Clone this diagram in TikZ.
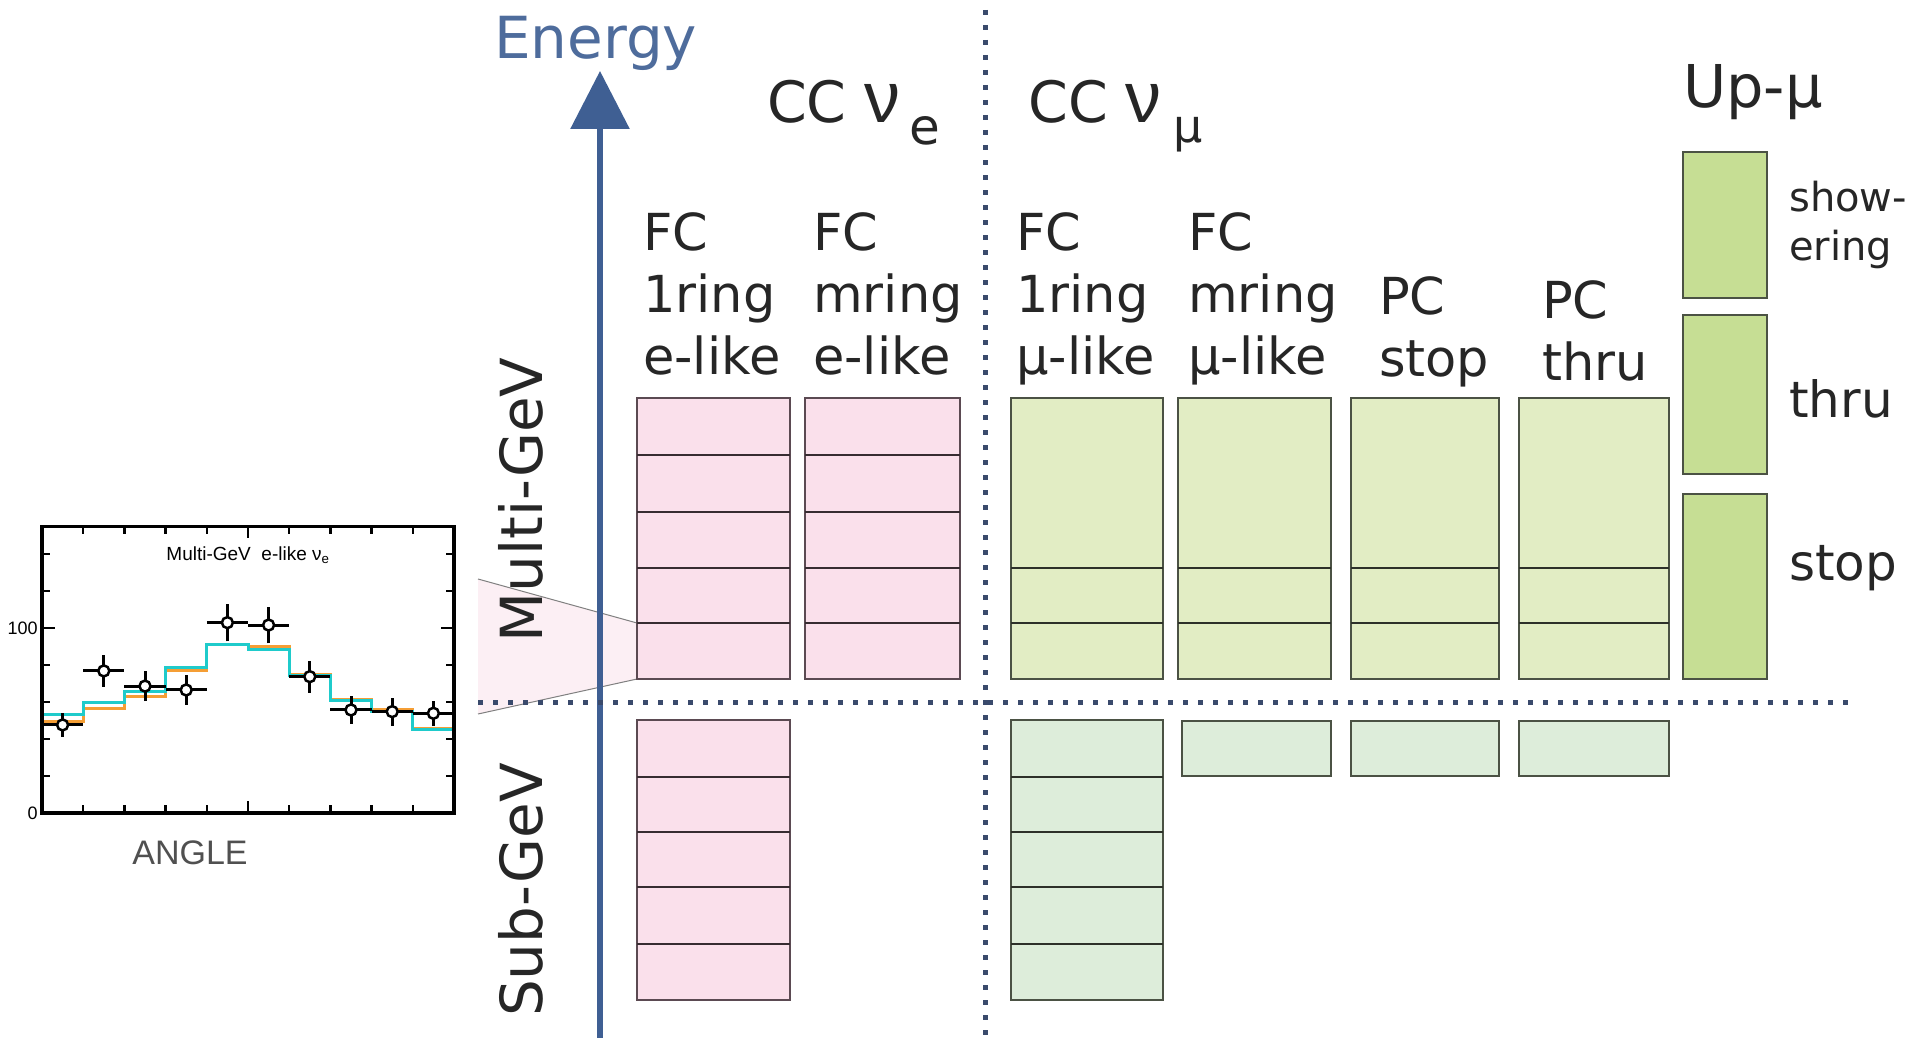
\documentclass[tikz,border=0pt]{standalone}
\usepackage{fontspec}
\setmainfont{DejaVu Sans}
\newfontfamily\plotfont{Liberation Sans}
\usetikzlibrary{arrows.meta}
\definecolor{axisblue}{HTML}{3F5F93}
\definecolor{energyblue}{HTML}{4E6C9C}
\definecolor{dotblue}{HTML}{3A4A6C}
\definecolor{pinkfill}{HTML}{FAE0EB}
\definecolor{pinkedge}{HTML}{5B4A52}
\definecolor{mgreen}{HTML}{E2EDC4}
\definecolor{sgreen}{HTML}{DDEDDA}
\definecolor{ugreen}{HTML}{C6DE94}
\definecolor{greenedge}{HTML}{4B5244}
\definecolor{zoomfill}{HTML}{FCEFF4}
\definecolor{histcyan}{HTML}{1FCBCB}
\definecolor{historange}{HTML}{F59E35}
\definecolor{anglegray}{HTML}{505050}
\definecolor{ink}{HTML}{262626}
% upright, straight-stroked nu for the channel headings
\newcommand{\bignu}{{\plotfont\fontsize{72}{72}\selectfont ν}}
\begin{document}
\begin{tikzpicture}[x=1pt,y=-1pt,
  cell/.style={line width=2.5pt},
  pinkcell/.style={cell, fill=pinkfill, draw=pinkedge},
  pinkrow/.style={line width=2.5pt, draw=pinkedge!60!black},
  mgcell/.style={cell, fill=mgreen, draw=greenedge},
  sgcell/.style={cell, fill=sgreen, draw=greenedge},
  upcell/.style={cell, fill=ugreen, draw=greenedge},
  greenrow/.style={line width=2.5pt, draw=greenedge!60!black},
  divider/.style={dotblue, line width=5pt, dash pattern=on 5pt off 10pt},
  collabel/.style={font=\fontsize{51}{62}\selectfont, align=left, anchor=north west, inner sep=0pt, text=ink},
  head/.style={font=\fontsize{57}{60}\selectfont, anchor=base west, inner sep=0pt, text=ink},
  sidelabel/.style={font=\fontsize{50}{50}\selectfont, anchor=base west, inner sep=0pt, text=ink},
  rangelabel/.style={font=\fontsize{58}{58}\selectfont, rotate=90, inner sep=0pt, text=ink},
  plotlabel/.style={font=\plotfont\fontsize{18}{18}\selectfont, inner sep=0pt},
  tick/.style={line width=2.5pt},
  errbar/.style={line width=3pt}
]
\useasboundingbox (0,0) rectangle (1924,1038);
\fill[white] (0,0) rectangle (1924,1038);

% zoom wedge from the histogram to the lowest multi-GeV e-like bin
\coordinate (zup) at (478,579);
\coordinate (zlo) at (478,714);
\coordinate (bup) at (637,623);
\coordinate (blo) at (637,679);
\fill[zoomfill] (zup) -- (bup) -- (blo) -- (zlo) -- cycle;
\draw[gray, line width=1pt] (zup) -- (bup);
\draw[gray, line width=1pt] (zlo) -- (blo);

% energy axis
\coordinate (axbot) at (600,1038);
\coordinate (axtop) at (600,71);
\draw[axisblue, line width=6pt, -{Triangle[length=58pt,width=58pt]}] (axbot) -- (axtop);
\node[font=\fontsize{58}{58}\selectfont, text=energyblue, anchor=base west, inner sep=0pt] (energy) at (494,59) {Energy};

% dotted dividers
\coordinate (vtop) at (985,10);
\coordinate (vbot) at (985,1038);
\coordinate (hleft) at (478,702);
\coordinate (hright) at (1853,702);
\draw[divider] (vtop) -- (vbot);
\draw[divider] (hleft) -- (hright);

% multi-GeV e-like bins
\foreach \xa/\xb in {637/790, 805/960} {
  \draw[pinkcell] (\xa,398) rectangle (\xb,679);
  \foreach \yy in {455,512,568,623} \draw[pinkrow] (\xa,\yy) -- (\xb,\yy);
}
% multi-GeV mu-like and PC bins
\foreach \xa/\xb in {1011/1163, 1178/1331, 1351/1499, 1519/1669} {
  \draw[mgcell] (\xa,398) rectangle (\xb,679);
  \foreach \yy in {568,623} \draw[greenrow] (\xa,\yy) -- (\xb,\yy);
}
% sub-GeV e-like
\draw[pinkcell] (637,720) rectangle (790,1000);
\foreach \yy in {777,832,887,944} \draw[pinkrow] (637,\yy) -- (790,\yy);
% sub-GeV mu-like 1ring
\draw[sgcell] (1011,720) rectangle (1163,1000);
\foreach \yy in {777,832,887,944} \draw[greenrow] (1011,\yy) -- (1163,\yy);
% sub-GeV single bins
\foreach \xa/\xb in {1182/1331, 1351/1499, 1519/1669}
  \draw[sgcell] (\xa,721) rectangle (\xb,776);
% upward-going muons
\draw[upcell] (1683,152) rectangle (1767,298);
\draw[upcell] (1683,315) rectangle (1767,474);
\draw[upcell] (1683,494) rectangle (1767,679);

% headings
\node[head] (ccnue) at (767,123) {CC \bignu\hspace{9pt}\raisebox{-22pt}{\fontsize{50}{50}\selectfont e}};
\node[head] (ccnumu) at (1028,123) {CC \bignu\hspace{12pt}\raisebox{-20pt}{\fontsize{46}{46}\selectfont μ}};
\node[head, font=\fontsize{59}{60}\selectfont] (upmu) at (1683,108) {Up-μ};

% sample labels
\node[collabel] (fc1e) at (643,212) {FC\\1ring\\e-like};
\node[collabel] (fcme) at (813,212) {FC\\mring\\e-like};
\node[collabel] (fc1m) at (1016,212) {FC\\1ring\\μ-like};
\node[collabel] (fcmm) at (1188,212) {FC\\mring\\μ-like};
\node[collabel] (pcs) at (1379,276) {PC\\stop};
\node[collabel] (pct) at (1542,280) {PC\\thru};
\node[font=\fontsize{40}{49}\selectfont, align=left, anchor=base west, inner sep=0pt, text=ink] (shower) at (1789,260) {show-\\ering};
\node[sidelabel] (thru) at (1789,417) {thru};
\node[sidelabel] (stop) at (1789,580) {stop};

% energy ranges
\node[rangelabel] (multigev) at (521,500) {Multi-GeV};
\node[rangelabel] (subgev) at (521,890) {Sub-GeV};

% zenith-angle histogram
\begin{scope}[shift={(42,813)}, x=41.2pt, y=1.85pt]
  \draw[historange, line width=3pt] (0,49.4) -| (1,56.6) -| (2,62.9) -| (3,76.8) -| (4,91.2) -| (5,89.9) -| (6,75) -| (7,61.6) -| (8,55.7) -| (9,45.8) -- (10,45.8);
  \draw[histcyan, line width=3pt] (0,53) -| (1,59.6) -| (2,65.6) -| (3,78.4) -| (4,91.2) -| (5,88.6) -| (6,74.2) -| (7,60.7) -| (8,54.8) -| (9,44.9) -- (10,44.9);
  \foreach \i/\v/\e in {0/47.6/6.3, 1/76.8/8.6, 2/68.6/8.1, 3/66.5/8.1, 4/102.9/10.1, 5/101.6/9.9, 6/73.7/8.6, 7/55.7/7.4, 8/54.8/7.5, 9/53.9/6.9} {
    \draw[errbar] (\i,\v) -- (\i+1,\v);
    \draw[errbar] (\i+0.5,\v-\e) -- (\i+0.5,\v+\e);
    \filldraw[fill=white, draw=black, line width=2.5pt] (\i+0.5,\v) circle[radius=5.5pt];
  }
  \foreach \v in {20,40,60,80,120,140} {
    \draw[tick] (0,\v) -- ++(8pt,0);
    \draw[tick] (10,\v) -- ++(-8pt,0);
  }
  \draw[tick] (0,100) -- ++(13pt,0);
  \draw[tick] (10,100) -- ++(-13pt,0);
  \foreach \i in {1,2,3,4,6,7,8,9} {
    \draw[tick] (\i,0) -- ++(0,8pt);
    \draw[tick] (\i,155) -- ++(0,-8pt);
  }
  \draw[tick] (5,0) -- ++(0,12pt);
  \draw[tick] (5,155) -- ++(0,-12pt);
  \draw[line width=3.5pt] (0,0) rectangle (10,155);
  \node[plotlabel, anchor=east] (y100) at (-0.1,100) {100};
  \node[plotlabel, anchor=east] (y0) at (-0.1,0) {0};
  \node[plotlabel, font=\plotfont\fontsize{19}{19}\selectfont] (ptitle) at (5,139.5) {Multi-GeV\ \ e-like ν\textsubscript{e}};
\end{scope}
\node[font=\plotfont\fontsize{34}{34}\selectfont, text=anglegray, inner sep=0pt] (angle) at (190,853) {ANGLE};
\end{tikzpicture}
\end{document}
